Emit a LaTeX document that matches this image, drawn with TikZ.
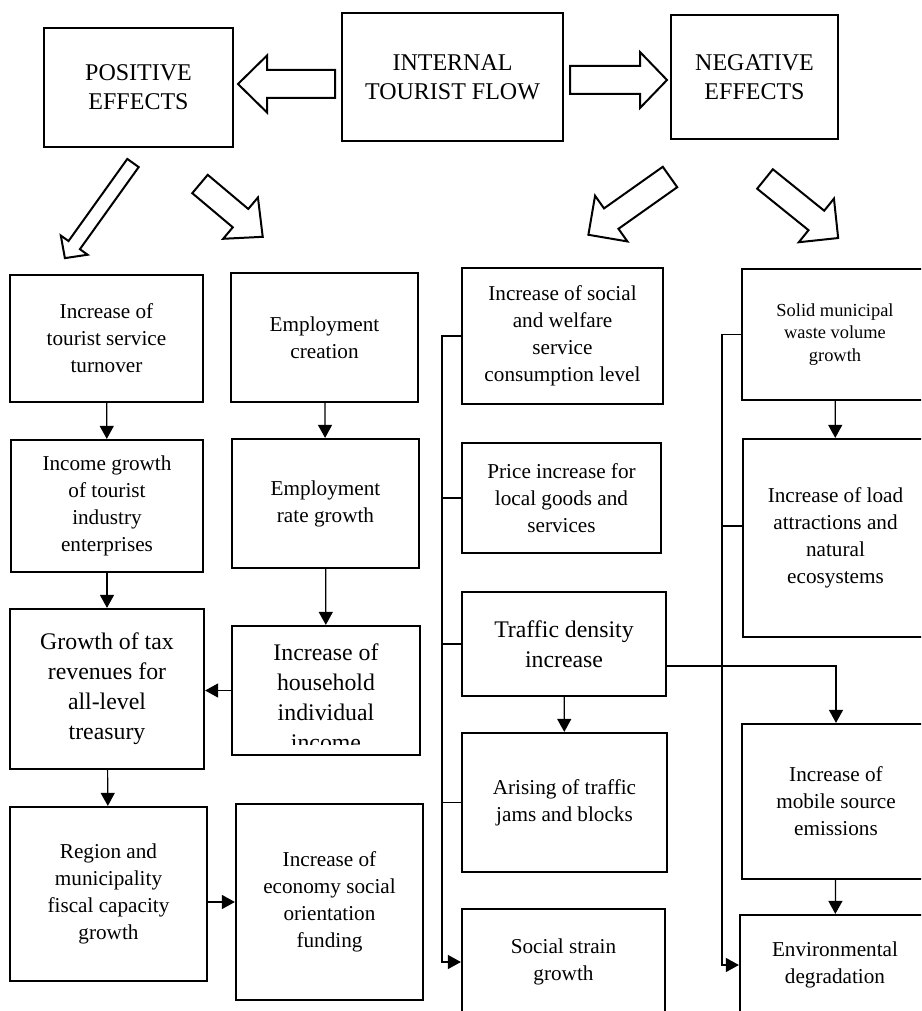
\documentclass[tikz,border=0pt]{standalone}
\usepackage{fontspec}
\setmainfont{Liberation Serif}
\usetikzlibrary{arrows.meta}

\newcommand{\boxfont}{\fontsize{10.6}{13.5}\selectfont}
\newcommand{\bigboxfont}{\fontsize{11.9}{15}\selectfont}
\newcommand{\smallboxfont}{\fontsize{9.2}{11.2}\selectfont}
\newcommand{\headfont}{\fontsize{12}{14.5}\selectfont}

% hollow block arrow: tail, angle, length, shaft half width, head half width, head length
\newcommand{\fatarrow}[6]{%
  \begin{scope}[shift={(#1)},rotate=#2]
    \draw[hollow] (0,-#4) -- ({#3-#6},-#4) -- ({#3-#6},-#5) -- (#3,0)
      -- ({#3-#6},#5) -- ({#3-#6},#4) -- (0,#4) -- cycle;
  \end{scope}}

\begin{document}
\begin{tikzpicture}[x=0.5pt,y=-0.5pt,>={Triangle[length=6.5pt,width=7pt]}]
  \tikzstyle{box}=[draw,line width=1.1pt,align=center,inner sep=0pt,font=\boxfont]
  \tikzstyle{link}=[line width=0.6pt]
  \tikzstyle{hollow}=[line width=1pt,fill=white,line join=miter]
  \tikzset{dim/.style 2 args={minimum width=#1*0.5pt,minimum height=#2*0.5pt}}

  \path[use as bounding box,clip] (0,0) rectangle (921,1011);

  % top row
  \node [box,dim={221}{128},font=\headfont] (flow) at (452.5,77) {INTERNAL\\TOURIST FLOW};
  \node [box,dim={189}{119},font=\headfont] (pos) at (138.5,87.5) {POSITIVE\\EFFECTS};
  \node [box,dim={167}{124},font=\headfont] (neg) at (754.5,77) {NEGATIVE\\EFFECTS};

  \fatarrow{335,84}{180}{97}{14}{28.5}{29}
  \fatarrow{570,80}{0}{97}{14}{28}{27}
  \fatarrow{133,163}{234.4}{117}{7}{16.5}{16}
  \fatarrow{200,184}{-40.1}{82}{12}{27}{29}
  \fatarrow{670,177}{215.3}{100}{12.5}{28}{28}
  \fatarrow{765,179}{-38.9}{94}{12.5}{28}{28}

  % positive effects
  \node [box,dim={193}{127}] (turnover) at (106.5,338.5) {Increase of\\tourist service\\turnover};
  \node [box,dim={192}{132}] (income) at (107,506) {Income growth\\of tourist\\industry\\enterprises};
  \node [box,dim={194}{160},font=\bigboxfont] (taxes) at (107,689) {Growth of tax\\revenues for\\all-level\\treasury};
  \node [box,dim={197}{174}] (fiscal) at (108.5,894) {Region and\\municipality\\fiscal capacity\\growth};

  \node [box,dim={187}{129}] (empl) at (324.5,337.5) {Employment\\creation};
  \node [box,dim={187}{129}] (emplrate) at (325.5,503.5) {Employment\\rate growth};
  \node [box,dim={188}{129}] (hhincome) at (326,690.5) {};
  \begin{scope}
    \clip (hhincome.north west) rectangle ([yshift=6pt]hhincome.south east);
    \node [align=center,inner sep=0pt,font=\bigboxfont] (hhtext) at (326,697.5) {Increase of\\household\\individual\\income};
  \end{scope}
  \node [box,dim={187}{196}] (funding) at (329.5,902) {Increase of\\economy social\\orientation\\funding};

  \draw [link,->] (turnover) -- (income);
  \draw [link,->] (income) -- (taxes);
  \draw [link,->] (taxes) -- (fiscal);
  \draw [link,->] (empl) -- (emplrate);
  \draw [link,->] (emplrate) -- (hhincome);
  \draw [link,->] (hhincome.west) -- (hhincome.west -| taxes.east);
  \draw [link,->] (fiscal.east |- funding.west) -- (funding.west);

  % negative effects
  \node [box,dim={201}{136}] (consump) at (562.5,336) {Increase of social\\and welfare\\service\\consumption level};
  \node [box,dim={199}{110}] (prices) at (561.5,498) {Price increase for\\local goods and\\services};
  \node [box,dim={204}{104},font=\bigboxfont] (traffic) at (564,644) {Traffic density\\increase};
  \node [box,dim={205}{139}] (jams) at (564.5,802.5) {Arising of traffic\\jams and blocks};
  \node [box,dim={203}{106}] (strain) at (563.5,962) {Social strain\\growth};

  \node [box,dim={186}{131},font=\smallboxfont] (waste) at (835,334.5) {Solid municipal\\waste volume\\growth};
  \node [box,dim={185}{198}] (load) at (835.5,538) {Increase of load\\attractions and\\natural\\ecosystems};
  \node [box,dim={188}{155}] (emiss) at (836,801.5) {Increase of\\mobile source\\emissions};
  \node [box,dim={190}{100}] (degrad) at (835,965) {Environmental\\degradation};

  \coordinate (dbus) at (442,0);
  \coordinate (ebus) at (722,0);
  \draw [link,->] (consump.west) -- (consump.west -| dbus) |- (strain.west);
  \foreach \n in {prices,traffic,jams}
    \draw [link] (\n.west) -- (\n.west -| dbus);
  \draw [link,->] (waste.west) -- (waste.west -| ebus) |- (degrad.west);
  \draw [link] ([yshift=6pt]load.west) -- ([yshift=6pt]load.west -| ebus);

  \draw [link,->] (traffic) -- (jams);
  \draw [link,->] ([yshift=-11pt]traffic.east) -| (emiss.north);
  \draw [link,->] (waste) -- (load);
  \draw [link,->] (emiss) -- (degrad);
\end{tikzpicture}
\end{document}
